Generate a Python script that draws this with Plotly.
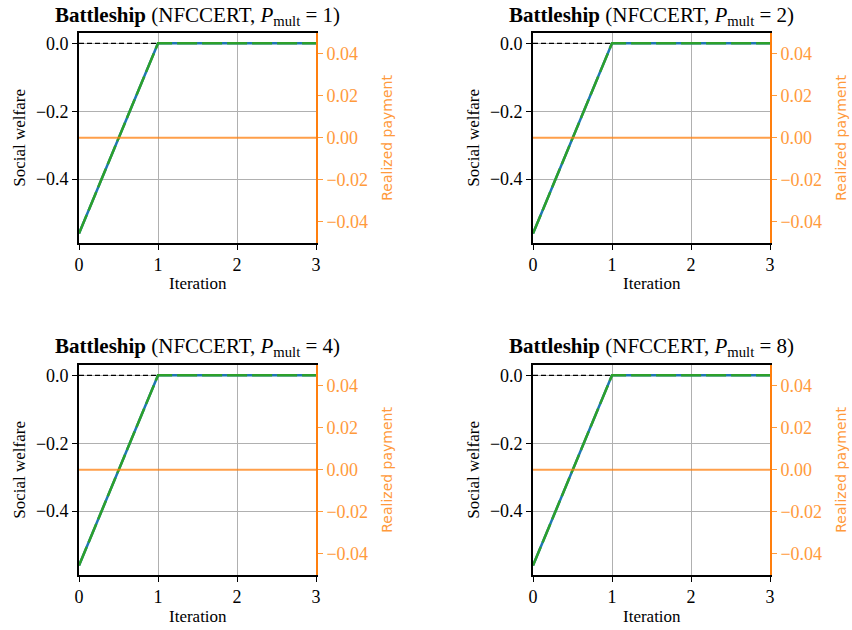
import plotly.graph_objects as go

iterations = [0, 1, 2, 3]
welfare_a = [-0.56, 0.0, 0.0, 0.0]
welfare_b = [-0.56, 0.0, 0.0, 0.0]
payment = [0.0, 0.0, 0.0, 0.0]
p_mult = [1, 2, 4, 8]
left_ticks = [0.0, -0.2, -0.4]
right_ticks = [0.04, 0.02, 0.0, -0.02, -0.04]
x_ticks = [0, 1, 2, 3]

W, H = 852, 630
SERIF = "Liberation Serif"
ORANGE = "#ff7f0e"
ORANGE_TXT = "#ff9a3c"

cols = [(79, 316), (533, 770)]
rows = [(32.5, 243), (364.5, 575)]

fig = go.Figure()
annotations = []

for i, pm in enumerate(p_mult):
    r, c = divmod(i, 2)
    x0, x1 = cols[c]
    y0, y1 = rows[r]
    xd = [x0 / W, x1 / W]
    yd = [1 - y1 / H, 1 - y0 / H]
    n = i + 1
    xa = f"x{n}" if n > 1 else "x"
    ly = 2 * i + 1
    ry = 2 * i + 2
    lya = f"y{ly}" if ly > 1 else "y"
    rya = f"y{ry}"

    fig.add_trace(go.Scatter(x=[x_ticks[0], x_ticks[-1]], y=[0, 0], mode="lines",
                             line=dict(color="black", width=1.3, dash="5px,3px"),
                             xaxis=xa, yaxis=lya, showlegend=False, hoverinfo="skip"))
    fig.add_trace(go.Scatter(x=iterations, y=welfare_a, mode="lines",
                             line=dict(color="#1f77b4", width=2.5),
                             xaxis=xa, yaxis=lya, showlegend=False))
    fig.add_trace(go.Scatter(x=iterations, y=welfare_b, mode="lines",
                             line=dict(color="#2ca02c", width=2.5, dash="20px,5px"),
                             xaxis=xa, yaxis=lya, showlegend=False))
    fig.add_trace(go.Scatter(x=iterations, y=payment, mode="lines",
                             line=dict(color="rgba(255,127,14,0.75)", width=2.2),
                             xaxis=xa, yaxis=rya, showlegend=False))

    xkey = "xaxis" if n == 1 else f"xaxis{n}"
    lkey = "yaxis" if ly == 1 else f"yaxis{ly}"
    rkey = f"yaxis{ry}"

    fig.layout[xkey] = dict(
        domain=xd, anchor=lya, range=[0, 3], tickvals=x_ticks,
        showgrid=True, gridcolor="#b0b0b0", gridwidth=1,
        showline=True, linecolor="black", linewidth=1.6, mirror=True,
        ticks="outside", ticklen=5, tickwidth=1, tickcolor="black",
        tickfont=dict(family=SERIF, size=18, color="black"), zeroline=False,
        automargin=False,
    )
    fig.layout[lkey] = dict(
        domain=yd, anchor=xa, range=[-0.588, 0.032], tickvals=left_ticks,
        tickformat=".1f",
        showgrid=True, gridcolor="#b0b0b0", gridwidth=1,
        showline=True, linecolor="black", linewidth=1.6,
        ticks="outside", ticklen=5, tickwidth=1, tickcolor="black",
        tickfont=dict(family=SERIF, size=18, color="black"), zeroline=False,
        automargin=False,
    )
    fig.layout[rkey] = dict(
        domain=yd, anchor=xa, overlaying=lya, side="right",
        range=[-0.05, 0.05], tickvals=right_ticks, tickformat=".2f",
        showgrid=False, showline=True, linecolor=ORANGE, linewidth=1.6,
        ticks="outside", ticklen=5, tickwidth=1, tickcolor=ORANGE_TXT,
        tickfont=dict(family=SERIF, size=18, color=ORANGE_TXT), zeroline=False,
        automargin=False,
    )

    cx = (x0 + x1) / 2
    annotations.append(dict(
        text=f"<b>Battleship</b> (NFCCERT, <i>P</i><sub>mult</sub> = {pm})",
        x=cx / W, y=1 - (y0 - 2) / H, xref="paper", yref="paper",
        xanchor="center", yanchor="bottom", showarrow=False,
        font=dict(family=SERIF, size=21, color="black")))
    annotations.append(dict(
        text="Iteration", x=cx / W, y=1 - (y1 + 41) / H, xref="paper", yref="paper",
        xanchor="center", yanchor="middle", showarrow=False,
        font=dict(family=SERIF, size=17, color="black")))
    annotations.append(dict(
        text="Social welfare", x=(x0 - 59) / W, y=1 - ((y0 + y1) / 2) / H,
        xref="paper", yref="paper", xanchor="center", yanchor="middle",
        showarrow=False, textangle=-90,
        font=dict(family=SERIF, size=17, color="black")))
    annotations.append(dict(
        text="Realized payment", x=(x1 + 71) / W, y=1 - ((y0 + y1) / 2) / H,
        xref="paper", yref="paper", xanchor="center", yanchor="middle",
        showarrow=False, textangle=-90,
        font=dict(family="DejaVu Sans", size=14, color=ORANGE_TXT)))

fig.update_layout(
    width=W, height=H, margin=dict(l=0, r=0, t=0, b=0, autoexpand=False),
    paper_bgcolor="white", plot_bgcolor="white",
    annotations=annotations, showlegend=False,
)

fig.write_html(
    "out.html",
    config={"displayModeBar": False},
    post_script="document.body.style.margin='0';document.body.style.padding='0';",
)
